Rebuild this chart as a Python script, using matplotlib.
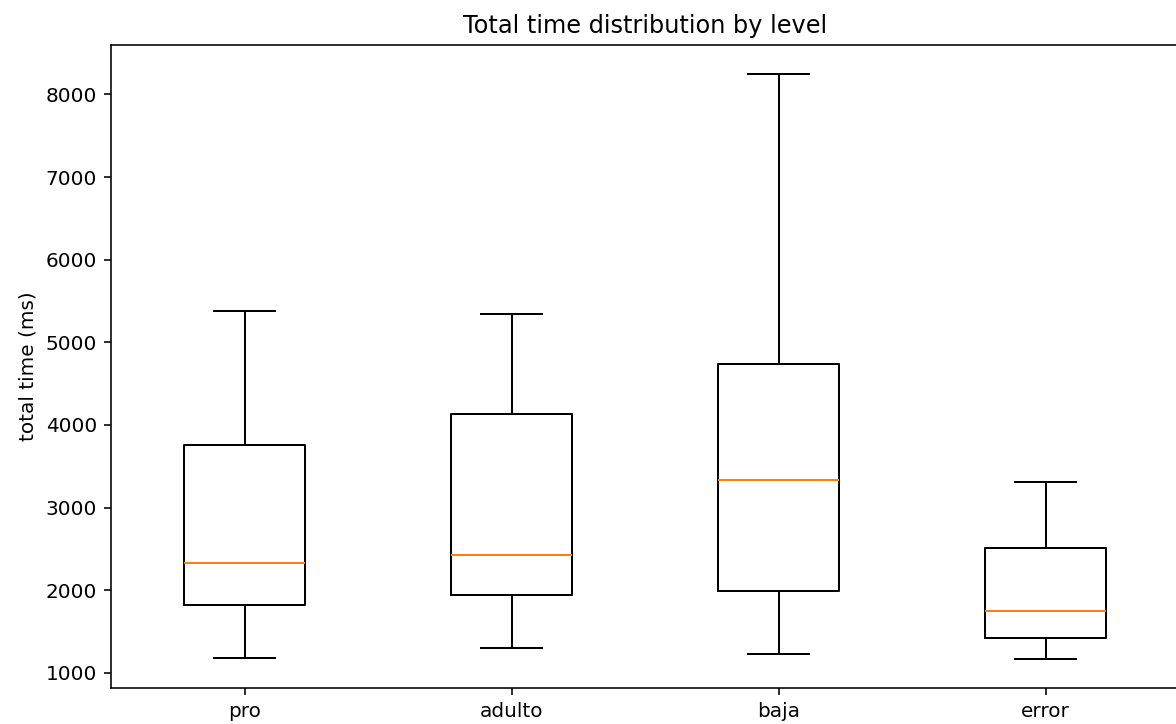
import matplotlib
matplotlib.use("Agg")
import matplotlib.pyplot as plt

levels = ["pro", "adulto", "baja", "error"]
whislo = [1180, 1300, 1230, 1170]
q1 = [1825, 1945, 1985, 1425]
med = [2335, 2420, 3330, 1750]
q3 = [3755, 4130, 4735, 2505]
whishi = [5385, 5345, 8245, 3305]

stats = []
for i, lab in enumerate(levels):
    stats.append(dict(label=lab, whislo=whislo[i], q1=q1[i], med=med[i],
                      q3=q3[i], whishi=whishi[i], fliers=[]))

dpi = 144
fig = plt.figure(figsize=(1176 / dpi, 724 / dpi), dpi=dpi)
ax = fig.add_axes([111 / 1176, 36 / 724, 1068 / 1176, 643 / 724])
ax.bxp(stats, widths=0.45, showfliers=False)
ax.set_title("Total time distribution by level")
ax.set_ylabel("total time (ms)")
fig.savefig("out.png", dpi=dpi)
